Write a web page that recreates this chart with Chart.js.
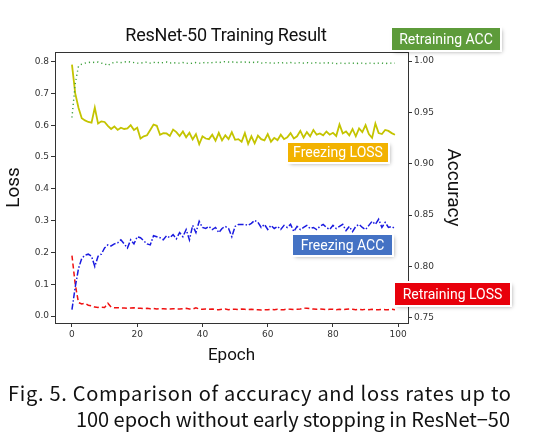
<!DOCTYPE html>
<html>
<head>
<meta charset="utf-8">
<script src="https://cdn.jsdelivr.net/npm/chart.js@4.4.1/dist/chart.umd.min.js"></script>
<style>
  html, body { margin: 0; padding: 0; background: #fff; }
  #wrap { position: relative; width: 536px; height: 446px; overflow: hidden; }
  #c { position: absolute; left: 0; top: 0; }
  .title { position: absolute; left: 0; width: 452px; top: 24px; text-align: center;
    font: 18px Roboto, sans-serif; color: #111; letter-spacing: -0.2px; }
  .tag { position: absolute; color: #fff; font: 14px "Liberation Sans Narrow", Roboto, sans-serif;
    text-align: center; box-shadow: 0 0 0 2px #fff, 2px 2px 4px rgba(0,0,0,0.35); }
  .cap { position: absolute; font: 20px "Noto Sans CJK KR", sans-serif; line-height: 24px;
    color: #111; white-space: nowrap; }
</style>
</head>
<body>
<div id="wrap">
  <canvas id="c" width="536" height="446"></canvas>
  <div class="title">ResNet-50 Training Result</div>
  <div class="tag" style="left:392px;top:28px;width:108px;height:22px;line-height:22px;background:#5d9b3a;">Retraining ACC</div>
  <div class="tag" style="left:288px;top:143px;width:100px;height:19px;line-height:19px;background:#f2b200;">Freezing LOSS</div>
  <div class="tag" style="left:293px;top:235px;width:99px;height:20px;line-height:20px;background:#4472c4;">Freezing ACC</div>
  <div class="tag" style="left:395px;top:283px;width:115px;height:22px;line-height:22px;background:#e8000b;">Retraining LOSS</div>
  <div class="cap" style="left:8px;top:381px;" data-w="503">Fig. 5. Comparison of accuracy and loss rates up to</div>
  <div class="cap" style="left:76px;top:407px;" data-w="434">100 epoch without early stopping in ResNet−50</div>
</div>
<script>
let epochs = [];
for (let i = 0; i < 100; i++) epochs.push(i);

let freezingLoss = [
  0.790, 0.700, 0.655, 0.622, 0.615, 0.610, 0.608, 0.655, 0.605, 0.612,
  0.610, 0.598, 0.588, 0.596, 0.585, 0.592, 0.588, 0.590, 0.600, 0.585,
  0.592, 0.558, 0.565, 0.568, 0.585, 0.602, 0.598, 0.570, 0.575, 0.574,
  0.566, 0.586, 0.578, 0.566, 0.580, 0.562, 0.576, 0.555, 0.572, 0.540,
  0.565, 0.558, 0.556, 0.570, 0.551, 0.576, 0.552, 0.568, 0.556, 0.578,
  0.554, 0.556, 0.548, 0.575, 0.541, 0.565, 0.543, 0.567, 0.556, 0.552,
  0.572, 0.548, 0.560, 0.553, 0.570, 0.556, 0.562, 0.575, 0.558, 0.565,
  0.582, 0.561, 0.578, 0.565, 0.585, 0.570, 0.574, 0.568, 0.580, 0.570,
  0.576, 0.566, 0.602, 0.574, 0.580, 0.568, 0.588, 0.565, 0.590, 0.578,
  0.600, 0.572, 0.560, 0.605, 0.575, 0.572, 0.585, 0.582, 0.575, 0.570
];

let retrainingLoss = [
  0.190, 0.100, 0.042, 0.038, 0.040, 0.034, 0.032, 0.028, 0.027, 0.028,
  0.027, 0.040, 0.028, 0.026, 0.026, 0.025, 0.025, 0.024, 0.025, 0.026,
  0.024, 0.024, 0.023, 0.024, 0.023, 0.024, 0.022, 0.023, 0.023, 0.022,
  0.022, 0.023, 0.022, 0.022, 0.023, 0.024, 0.022, 0.022, 0.026, 0.022,
  0.021, 0.022, 0.021, 0.022, 0.020, 0.020, 0.021, 0.022, 0.020, 0.021,
  0.021, 0.020, 0.022, 0.021, 0.020, 0.021, 0.020, 0.020, 0.019, 0.020,
  0.020, 0.021, 0.020, 0.021, 0.020, 0.020, 0.022, 0.021, 0.020, 0.021,
  0.022, 0.025, 0.024, 0.023, 0.022, 0.021, 0.022, 0.021, 0.020, 0.021,
  0.021, 0.020, 0.021, 0.020, 0.021, 0.022, 0.021, 0.020, 0.021, 0.020,
  0.021, 0.020, 0.021, 0.020, 0.020, 0.021, 0.020, 0.020, 0.021, 0.020
];

let freezingAcc = [
  0.758, 0.780, 0.798, 0.808, 0.811, 0.812, 0.810, 0.800, 0.810, 0.812,
  0.818, 0.821, 0.820, 0.822, 0.823, 0.826, 0.822, 0.818, 0.826, 0.822,
  0.829, 0.828, 0.825, 0.822, 0.821, 0.830, 0.829, 0.828, 0.826, 0.830,
  0.828, 0.831, 0.827, 0.833, 0.829, 0.836, 0.826, 0.840, 0.833, 0.844,
  0.838, 0.837, 0.839, 0.836, 0.838, 0.833, 0.837, 0.839, 0.837, 0.829,
  0.839, 0.841, 0.841, 0.841, 0.840, 0.842, 0.845, 0.843, 0.838, 0.841,
  0.836, 0.840, 0.837, 0.839, 0.836, 0.840, 0.838, 0.841, 0.834, 0.839,
  0.836, 0.838, 0.840, 0.837, 0.838, 0.836, 0.839, 0.841, 0.838, 0.836,
  0.840, 0.837, 0.839, 0.841, 0.835, 0.839, 0.834, 0.839, 0.841, 0.838,
  0.836, 0.840, 0.844, 0.841, 0.846, 0.838, 0.843, 0.838, 0.839, 0.837
];

let retrainingAcc = [
  0.945, 0.978, 0.995, 0.997, 0.998, 0.9985, 0.999, 0.9985, 0.999, 0.998,
  0.9975, 0.9955, 0.998, 0.9985, 0.999, 0.9985, 0.999, 0.9995, 0.999, 0.9985,
  0.998, 0.998, 0.9985, 0.999, 0.998, 0.9985, 0.999, 0.998, 0.9985, 0.999,
  0.998, 0.9985, 0.998, 0.998, 0.9985, 0.998, 0.9975, 0.998, 0.9985, 0.998,
  0.998, 0.999, 0.998, 0.9985, 0.999, 0.9985, 0.999, 0.9995, 0.999, 0.999,
  0.999, 0.9985, 0.999, 0.999, 0.9985, 0.999, 0.9985, 0.999, 0.998, 0.9985,
  0.9985, 0.998, 0.998, 0.9985, 0.998, 0.9985, 0.998, 0.9985, 0.998, 0.998,
  0.9985, 0.998, 0.9985, 0.998, 0.998, 0.9985, 0.998, 0.998, 0.9985, 0.998,
  0.998, 0.9975, 0.998, 0.998, 0.9975, 0.998, 0.998, 0.9975, 0.998, 0.998,
  0.9975, 0.998, 0.998, 0.9975, 0.998, 0.998, 0.9975, 0.998, 0.998, 0.998
];

function pts(ys) {
  return ys.map((y, i) => ({ x: epochs[i], y: y }));
}

// stretch the caption lines to the width they have in the figure
document.querySelectorAll('.cap').forEach(el => {
  let n = el.textContent.length;
  let w = el.getBoundingClientRect().width;
  el.style.letterSpacing = ((+el.dataset.w - w) / (n - 1)) + 'px';
});

let frame = {
  id: 'frame',
  afterDraw(chart) {
    let a = chart.chartArea, ctx = chart.ctx;
    ctx.save();
    ctx.strokeStyle = '#333';
    ctx.lineWidth = 1;
    ctx.beginPath();
    ctx.moveTo(a.left, a.top + 0.5);
    ctx.lineTo(a.right, a.top + 0.5);
    ctx.stroke();
    ctx.restore();
  }
};

let tickFont = { family: 'DejaVu Sans', size: 9 };

new Chart(document.getElementById('c').getContext('2d'), {
  type: 'line',
  data: {
    datasets: [
      { label: 'Retraining ACC', data: pts(retrainingAcc), yAxisID: 'acc',
        borderColor: '#3a9e3a', borderWidth: 1.4, borderDash: [1.2, 3], pointRadius: 0, tension: 0 },
      { label: 'Freezing LOSS', data: pts(freezingLoss), yAxisID: 'loss',
        borderColor: '#c4c400', borderWidth: 1.8, pointRadius: 0, tension: 0 },
      { label: 'Freezing ACC', data: pts(freezingAcc), yAxisID: 'acc',
        borderColor: '#1a1ae0', borderWidth: 1.5, borderDash: [6, 2, 1.5, 2], pointRadius: 0, tension: 0 },
      { label: 'Retraining LOSS', data: pts(retrainingLoss), yAxisID: 'loss',
        borderColor: '#f01010', borderWidth: 1.5, borderDash: [5, 3], pointRadius: 0, tension: 0 }
    ]
  },
  options: {
    responsive: false,
    animation: false,
    devicePixelRatio: 1,
    layout: { padding: { left: 0, top: 52, right: 68, bottom: 76 } },
    plugins: { legend: { display: false }, tooltip: { enabled: false } },
    scales: {
      x: {
        type: 'linear', min: -5.2, max: 103,
        afterFit: s => { s.height = 47; },
        ticks: { stepSize: 20, includeBounds: false, font: tickFont, color: '#333', padding: 2, maxRotation: 0 },
        grid: { drawOnChartArea: false, tickLength: 4, color: '#333' },
        border: { color: '#333' },
        title: { display: true, text: 'Epoch', font: { family: 'Roboto', size: 17 }, color: '#111', padding: 4 }
      },
      loss: {
        type: 'linear', position: 'left', min: -0.022, max: 0.83,
        afterFit: s => { s.width = 55; },
        ticks: { stepSize: 0.1, includeBounds: false, font: tickFont, color: '#333', padding: 2,
          callback: v => v.toFixed(1) },
        grid: { drawOnChartArea: false, tickLength: 4, color: '#333' },
        border: { color: '#333' },
        title: { display: true, text: 'Loss', font: { family: 'Roboto', size: 19 }, color: '#111', padding: 3 }
      },
      acc: {
        type: 'linear', position: 'right', min: 0.745, max: 1.0088,
        afterFit: s => { s.width = 60; },
        ticks: { stepSize: 0.05, includeBounds: false, font: tickFont, color: '#333', padding: 2,
          callback: v => v.toFixed(2) },
        grid: { drawOnChartArea: false, tickLength: 4, color: '#333' },
        border: { color: '#333' },
        title: { display: true, text: 'Accuracy', font: { family: 'Roboto', size: 19 }, color: '#111', padding: 4 }
      }
    }
  },
  plugins: [frame]
});
</script>
</body>
</html>
